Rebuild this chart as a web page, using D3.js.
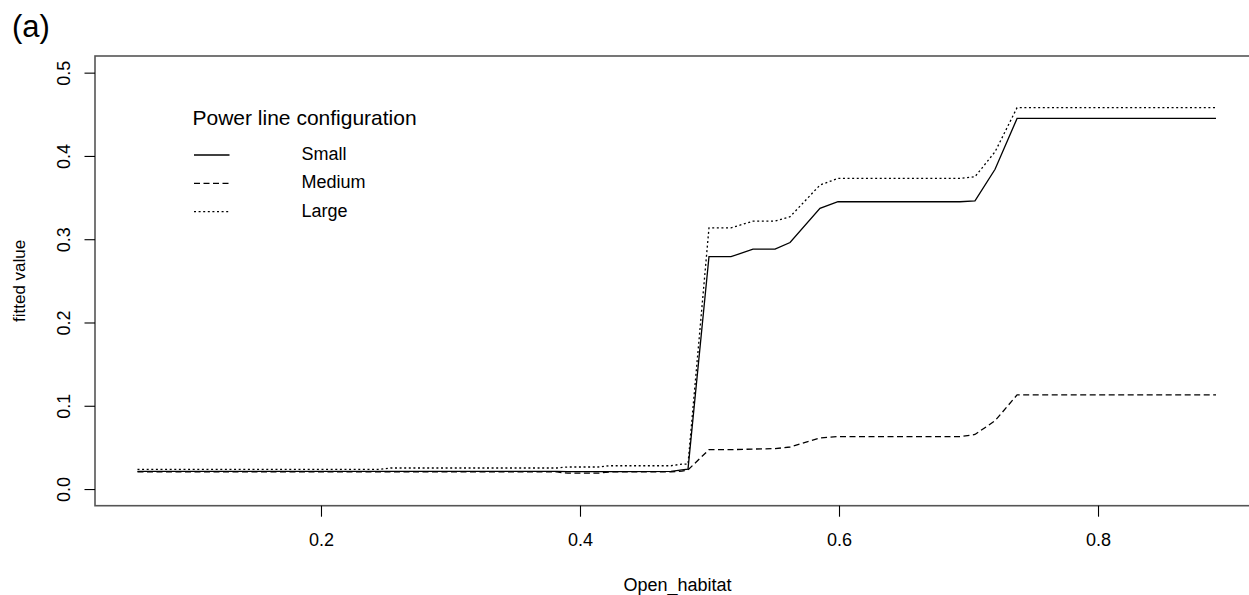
<!DOCTYPE html>
<html>
<head>
<meta charset="utf-8">
<script src="https://cdn.jsdelivr.net/npm/d3@7"></script>
<style>
  html, body { margin: 0; padding: 0; background: #fff; }
  svg { display: block; }
  text { font-family: "Liberation Sans", Arial, sans-serif; fill: #000; }
</style>
</head>
<body>
<svg id="chart" width="1249" height="595"></svg>
<script>
// ---- data ----
const openHabitat = [0.0583, 0.2453, 0.2537, 0.3822, 0.3906, 0.4140, 0.4224, 0.4703, 0.4787, 0.4834,
                     0.4996, 0.5166, 0.5336, 0.5506, 0.5622, 0.5853, 0.5992, 0.6934, 0.7050, 0.7205,
                     0.7375, 0.8911];
const smallVals  = [0.0212, 0.0212, 0.0212, 0.0212, 0.0210, 0.0210, 0.0210, 0.0212, 0.0230, 0.0240,
                    0.2790, 0.2790, 0.2880, 0.2880, 0.2960, 0.3370, 0.3450, 0.3450, 0.3460, 0.3840,
                    0.4450, 0.4450];
const mediumVals = [0.0205, 0.0205, 0.0205, 0.0205, 0.0190, 0.0190, 0.0205, 0.0205, 0.0215, 0.0230,
                    0.0473, 0.0473, 0.0480, 0.0485, 0.0505, 0.0614, 0.0630, 0.0630, 0.0655, 0.0820,
                    0.1130, 0.1130];
const largeVals  = [0.0236, 0.0236, 0.0253, 0.0253, 0.0265, 0.0265, 0.0280, 0.0280, 0.0300, 0.0300,
                    0.3136, 0.3136, 0.3217, 0.3217, 0.3270, 0.3650, 0.3730, 0.3730, 0.3750, 0.4050,
                    0.4580, 0.4580];
const seriesNames = ["Small", "Medium", "Large"];
const xTicks = [0.2, 0.4, 0.6, 0.8];
const yTicks = [0.0, 0.1, 0.2, 0.3, 0.4, 0.5];
const xLabel = "Open_habitat";
const yLabel = "fitted value";
const legendTitle = "Power line configuration";
const panelLabel = "(a)";

// ---- layout ----
const svg = d3.select("#chart");
const plotLeft = 95, plotRight = 1258.6, plotTop = 56, plotBottom = 505.7;

const x = d3.scaleLinear().domain([0.0255, 0.9240]).range([plotLeft, plotRight]);
const y = d3.scaleLinear().domain([-0.02, 0.52]).range([plotBottom, plotTop]);

const dashes = { Small: null, Medium: "6,3.5", Large: "2,2.6" };
const seriesVals = { Small: smallVals, Medium: mediumVals, Large: largeVals };

// box
svg.append("rect")
  .attr("x", plotLeft).attr("y", plotTop)
  .attr("width", plotRight - plotLeft).attr("height", plotBottom - plotTop)
  .attr("fill", "none").attr("stroke", "#555").attr("stroke-width", 1.6);

// x axis
const gx = svg.append("g")
  .attr("transform", `translate(0,${plotBottom})`)
  .call(d3.axisBottom(x).tickValues(xTicks).tickSize(11).tickPadding(0).tickFormat(d3.format(".1f")));
gx.select(".domain").remove();
gx.selectAll(".tick line").attr("stroke", "#000").attr("stroke-width", 1.1);
gx.selectAll(".tick text")
  .attr("y", 40).attr("dy", 0)
  .style("font-size", "18px")
  .style("font-family", "'Liberation Sans', Arial, sans-serif")
  .attr("fill", "#000");

// y axis
const gy = svg.append("g")
  .attr("transform", `translate(${plotLeft},0)`)
  .call(d3.axisLeft(y).tickValues(yTicks).tickSize(10.5).tickFormat(d3.format(".1f")));
gy.select(".domain").remove();
gy.selectAll(".tick line").attr("stroke", "#000").attr("stroke-width", 1.1);
gy.selectAll(".tick text")
  .attr("x", 0).attr("y", -25).attr("dy", 0)
  .attr("text-anchor", "middle")
  .attr("transform", "rotate(-90)")
  .style("font-size", "18px")
  .style("font-family", "'Liberation Sans', Arial, sans-serif")
  .attr("fill", "#000");

// axis titles
svg.append("text")
  .attr("x", 677.5).attr("y", 591)
  .attr("text-anchor", "middle")
  .style("font-size", "18px")
  .text(xLabel);

svg.append("text")
  .attr("transform", `translate(25,${(plotTop + plotBottom) / 2}) rotate(-90)`)
  .attr("text-anchor", "middle")
  .style("font-size", "17px")
  .text(yLabel);

// panel label
svg.append("text")
  .attr("x", 12).attr("y", 37)
  .style("font-size", "31px")
  .text(panelLabel);

// lines
const line = d3.line()
  .x(d => x(d[0]))
  .y(d => y(d[1]));

seriesNames.forEach(name => {
  const pts = openHabitat.map((v, i) => [v, seriesVals[name][i]]);
  svg.append("path")
    .datum(pts)
    .attr("d", line)
    .attr("fill", "none")
    .attr("stroke", "#000")
    .attr("stroke-width", 1.3)
    .attr("stroke-dasharray", dashes[name]);
});

// legend
svg.append("text")
  .attr("x", 192.5).attr("y", 124.5)
  .style("font-size", "21px")
  .text(legendTitle);

const legendBaselines = [160, 188.3, 216.7];
seriesNames.forEach((name, i) => {
  const by = legendBaselines[i];
  svg.append("line")
    .attr("x1", 194).attr("x2", 229.5)
    .attr("y1", by - 5).attr("y2", by - 5)
    .attr("stroke", "#000")
    .attr("stroke-width", 1.3)
    .attr("stroke-dasharray", dashes[name]);
  svg.append("text")
    .attr("x", 301.5).attr("y", by)
    .style("font-size", "18px")
    .text(name);
});
</script>
</body>
</html>
